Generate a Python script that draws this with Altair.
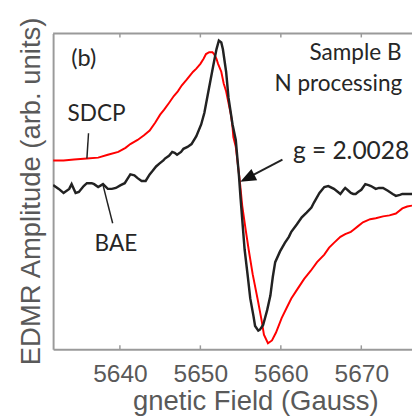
import altair as alt
import pandas as pd

# ---- data (field in Gauss, amplitude in arb. units) ----
bae_field = [5631.7, 5632.4, 5633.0, 5633.7, 5634.0, 5634.5, 5634.9, 5635.5, 5635.9, 5636.5,
             5636.8, 5637.3, 5637.9, 5638.5, 5639.0, 5639.5, 5640.1, 5640.6, 5641.0, 5641.3,
             5641.8, 5642.2, 5642.7, 5643.2, 5643.7, 5644.0, 5644.5, 5644.9, 5645.4, 5645.6,
             5646.1, 5646.5, 5646.8, 5647.1, 5647.6, 5647.9, 5648.4, 5648.9, 5649.5, 5650.1,
             5650.5, 5651.0, 5651.6, 5652.0, 5652.3, 5652.6, 5652.8, 5653.2, 5653.5, 5654.0,
             5654.4, 5654.8, 5655.0, 5655.4, 5655.5, 5655.9, 5656.2, 5656.6, 5656.8, 5657.2,
             5657.4, 5657.8, 5658.3, 5658.7, 5659.0, 5659.3, 5659.9, 5660.5, 5661.0, 5661.3,
             5662.0, 5662.6, 5663.2, 5663.8, 5664.1, 5664.8, 5665.4, 5665.9, 5666.6, 5667.1,
             5667.4, 5667.8, 5668.0, 5668.4, 5668.7, 5669.0, 5669.3, 5669.6, 5670.0, 5670.5,
             5670.9, 5671.2, 5671.8, 5672.2, 5672.7, 5673.3, 5673.9, 5674.3, 5674.8, 5675.1,
             5675.7, 5676.3]
bae_amp = [52.0, 50.8, 49.5, 50.8, 52.3, 49.5, 49.8, 51.7, 52.6, 52.6,
           52.3, 51.4, 52.3, 50.8, 50.8, 51.1, 52.0, 52.6, 54.2, 55.4,
           55.1, 54.2, 53.3, 53.3, 55.4, 56.3, 57.9, 58.8, 59.8, 60.4,
           61.3, 62.5, 62.2, 61.6, 62.5, 63.5, 64.1, 65.0, 67.5, 71.2,
           74.9, 81.7, 89.8, 95.0, 97.8, 97.2, 95.0, 87.9, 79.6, 71.2,
           66.3, 54.8, 47.7, 34.7, 31.6, 22.9, 16.1, 10.5, 7.4, 5.9,
           6.2, 7.7, 12.4, 17.0, 22.9, 27.6, 31.0, 33.7, 35.6, 37.2,
           39.6, 41.8, 43.3, 44.9, 46.4, 49.5, 51.4, 51.7, 50.8, 49.8,
           49.2, 50.5, 51.1, 50.2, 49.5, 49.2, 49.2, 49.8, 50.5, 52.3,
           52.0, 51.7, 50.8, 51.1, 51.1, 50.2, 49.2, 48.6, 48.9, 49.2,
           49.2, 49.2]

sdcp_field = [5631.7, 5633.0, 5634.3, 5635.9, 5637.3, 5638.5, 5639.8, 5640.7, 5641.3, 5642.2,
              5643.0, 5643.7, 5644.4, 5645.0, 5645.5, 5646.1, 5646.7, 5647.2, 5647.7, 5648.3,
              5648.7, 5649.1, 5649.5, 5650.0, 5650.4, 5650.7, 5651.1, 5651.5, 5651.7, 5652.0,
              5652.2, 5652.6, 5652.9, 5653.2, 5653.5, 5653.8, 5654.0, 5654.1, 5654.4, 5654.9,
              5655.2, 5655.6, 5656.0, 5656.5, 5657.1, 5657.6, 5657.9, 5658.4, 5658.9, 5659.4,
              5660.1, 5660.7, 5661.3, 5662.1, 5662.9, 5663.7, 5664.5, 5665.4, 5666.0, 5666.6,
              5667.4, 5668.0, 5668.7, 5669.0, 5669.6, 5670.2, 5671.1, 5671.8, 5672.7, 5673.5,
              5674.3, 5675.1, 5675.7, 5676.3]
sdcp_amp = [59.8, 59.8, 60.1, 60.4, 60.7, 61.6, 62.5, 63.8, 65.0, 66.3,
            67.8, 69.3, 71.8, 74.3, 75.9, 78.0, 80.2, 81.7, 83.6, 85.4,
            86.7, 87.9, 88.9, 90.4, 92.0, 93.5, 94.1, 94.1, 93.5, 92.0,
            90.4, 87.9, 84.2, 81.7, 78.0, 74.3, 70.3, 67.2, 64.1, 53.3,
            45.5, 38.4, 31.6, 23.8, 16.1, 9.3, 4.6, 1.9, 2.8, 5.3,
            9.9, 13.0, 16.1, 19.2, 22.3, 24.8, 27.6, 30.0, 32.2, 33.7,
            35.6, 36.5, 37.2, 37.8, 39.0, 40.2, 41.2, 41.5, 42.1, 42.4,
            43.0, 44.6, 45.2, 45.5]

tick_values = [5640, 5650, 5660, 5670]
x_domain = [5631.7, 5676.3]
y_domain = [0, 100]
x_title = "gnetic Field (Gauss)"
y_title = "EDMR Amplitude (arb. units)"

# annotation anchor points (data coordinates)
label_center = pd.DataFrame({"t": ["SDCP", "BAE"], "f": [5637.1, 5639.5], "a": [72.4, 31.0]})
label_b = pd.DataFrame({"t": ["(b)"], "f": [5635.5], "a": [91.9]})
label_right = pd.DataFrame({"t": ["Sample B", "N processing"], "f": [5675.0, 5675.1], "a": [91.6, 81.7]})
label_g = pd.DataFrame({"t": ["g = 2.0028"], "f": [5661.5], "a": [60.4]})
pointers = pd.DataFrame({"f": [5636.1, 5637.9], "a": [68.4, 52.0],
                         "f2": [5635.9, 5639.1], "a2": [60.4, 39.9]})
arrow_line = pd.DataFrame({"f": [5660.2], "a": [60.1], "f2": [5656.4], "a2": [55.0]})
arrow_head = pd.DataFrame({"f": [5656.7], "a": [55.3]})

W, H = 366, 322
GRAY = "#9a9a9a"
TXT = "#595959"
xs = alt.Scale(domain=x_domain, nice=False, zero=False)
ys = alt.Scale(domain=y_domain, nice=False, zero=False)

# identical axis definitions in every layer so they merge into one axis each
x_axis = alt.Axis(values=tick_values, format="d", ticks=False, grid=False,
                  domainColor=GRAY, domainWidth=2,
                  labelFont="Liberation Sans", labelFontSize=25, labelColor=TXT,
                  labelBaseline="alphabetic", labelPadding=33,
                  title=x_title, titleFont="Liberation Sans",
                  titleFontSize=28, titleFontWeight="normal", titleColor=TXT,
                  titleAlign="left", titleBaseline="alphabetic", titleX=81, titleY=61)
y_axis = alt.Axis(labels=False, ticks=False, grid=False, domainColor=GRAY, domainWidth=2,
                  title="")


def XF(field="f"):
    return alt.X(f"{field}:Q", scale=xs, axis=x_axis)


def YF(field="a"):
    return alt.Y(f"{field}:Q", scale=ys, axis=y_axis)


sdcp = alt.Chart(pd.DataFrame({"f": sdcp_field, "a": sdcp_amp})).mark_line(
    color="#ff0000", strokeWidth=2, clip=True).encode(x=XF(), y=YF())
bae = alt.Chart(pd.DataFrame({"f": bae_field, "a": bae_amp})).mark_line(
    color="#222222", strokeWidth=2.5, clip=True).encode(x=XF(), y=YF())

# top frame line and inward ticks
frame_top = alt.Chart(pd.DataFrame({"f": [x_domain[0]], "f2": [x_domain[1]]})).mark_rule(
    color=GRAY, strokeWidth=2).encode(x=XF(), x2="f2:Q", y=alt.value(0))
ticks_df = pd.DataFrame({"f": tick_values})
top_ticks = alt.Chart(ticks_df).mark_rule(color=GRAY, strokeWidth=1.5).encode(
    x=XF(), y=alt.value(0), y2=alt.value(4))
bottom_ticks = alt.Chart(ticks_df).mark_rule(color=GRAY, strokeWidth=1.5).encode(
    x=XF(), y=alt.value(H), y2=alt.value(H - 4))

ytitle = alt.Chart(pd.DataFrame({"t": [y_title]})).mark_text(
    font="Liberation Sans", fontSize=28, color=TXT, angle=270,
    align="center", baseline="alphabetic").encode(
    text="t:N", x=alt.value(-13), y=alt.value(H / 2))

ptr = alt.Chart(pointers).mark_rule(color="#222222", strokeWidth=1.5).encode(
    x=XF(), y=YF(), x2="f2:Q", y2="a2:Q")
arr = alt.Chart(arrow_line).mark_rule(color="#222222", strokeWidth=2).encode(
    x=XF(), y=YF(), x2="f2:Q", y2="a2:Q")
head = alt.Chart(arrow_head).mark_point(
    shape="M0,-1L0.4,0L-0.4,0Z", filled=True, size=1024, angle=243,
    color="#111111", opacity=1).encode(x=XF(), y=YF())

FONT = "Lato"
t_center = alt.Chart(label_center).mark_text(
    font=FONT, fontSize=23, color="#262626", align="center", baseline="alphabetic").encode(
    x=XF(), y=YF(), text="t:N")
t_b = alt.Chart(label_b).mark_text(
    font=FONT, fontSize=24, color="#262626", align="center", baseline="middle").encode(
    x=XF(), y=YF(), text="t:N")
t_right = alt.Chart(label_right).mark_text(
    font=FONT, fontSize=23, color="#262626", align="right", baseline="alphabetic").encode(
    x=XF(), y=YF(), text="t:N")
t_g = alt.Chart(label_g).mark_text(
    font=FONT, fontSize=25, color="#262626", align="left", baseline="alphabetic").encode(
    x=XF(), y=YF(), text="t:N")

chart = alt.layer(sdcp, bae, frame_top, top_ticks, bottom_ticks, ytitle, ptr, arr, head,
                  t_center, t_b, t_right, t_g).properties(
    width=W, height=H,
    autosize=alt.AutoSizeParams(type="none"),
    padding={"left": 46, "top": 22, "right": 0, "bottom": 64},
    background="white",
).configure_view(stroke=None)

chart.save("out.html", embed_options={"renderer": "svg", "actions": False})
